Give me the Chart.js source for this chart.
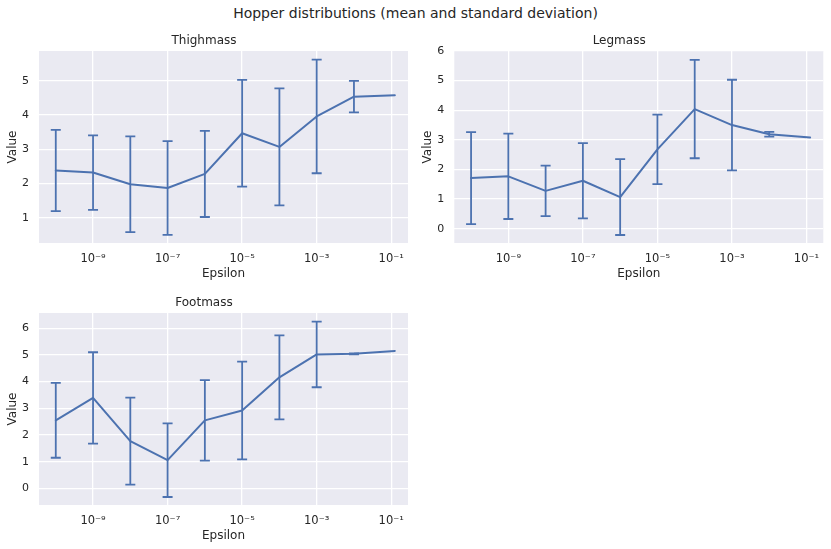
<!DOCTYPE html>
<html><head><meta charset="utf-8">
<script src="https://cdn.jsdelivr.net/npm/chart.js@4.4.0/dist/chart.umd.min.js"></script>
<style>
html,body{margin:0;padding:0;background:#fff;overflow:hidden;width:831px;height:549px;}
#sup{position:absolute;left:0;top:0;width:831px;text-align:center;font-family:"DejaVu Sans";font-size:14px;color:#262626;line-height:26px;}
.c{position:absolute;}
</style></head><body>
<div id="sup">Hopper distributions (mean and standard deviation)</div>
<div class="c" style="left:0;top:30px;width:415px;height:260px"><canvas id="c1"></canvas></div>
<div class="c" style="left:415px;top:30px;width:416px;height:260px"><canvas id="c2"></canvas></div>
<div class="c" style="left:0;top:292px;width:415px;height:260px"><canvas id="c3"></canvas></div>
<script>
const epsilon = [1e-10, 1e-9, 1e-8, 1e-7, 1e-6, 1e-5, 1e-4, 1e-3, 1e-2, 0.125];
const xTickValues = [1e-9, 1e-7, 1e-5, 1e-3, 1e-1];
const xTickLabels = ['10⁻⁹', '10⁻⁷', '10⁻⁵', '10⁻³', '10⁻¹'];

const thighMean = [2.38, 2.32, 1.98, 1.87, 2.28, 3.47, 3.07, 3.96, 4.54, 4.58];
const thighStd  = [1.19, 1.09, 1.40, 1.37, 1.26, 1.56, 1.71, 1.66, 0.46, null];
const legMean   = [1.71, 1.77, 1.28, 1.62, 1.07, 2.68, 4.04, 3.50, 3.19, 3.08];
const legStd    = [1.55, 1.44, 0.85, 1.27, 1.28, 1.17, 1.66, 1.53, 0.08, null];
const footMean  = [2.55, 3.39, 1.77, 1.06, 2.55, 2.92, 4.16, 5.02, 5.04, 5.15];
const footStd   = [1.40, 1.71, 1.63, 1.38, 1.51, 1.83, 1.57, 1.23, 0.02, null];

const thighYTicks = [1, 2, 3, 4, 5];
const legYTicks   = [0, 1, 2, 3, 4, 5, 6];
const footYTicks  = [0, 1, 2, 3, 4, 5, 6];

const TXT = '#262626';
const LINE = '#4C72B0';

const bgPlugin = {
  id: 'bg',
  beforeDraw(chart) {
    const a = chart.chartArea, ctx = chart.ctx;
    ctx.save(); ctx.fillStyle = '#EAEAF2';
    ctx.fillRect(a.left, a.top, a.right - a.left, a.bottom - a.top);
    ctx.restore();
  }
};

const errPlugin = {
  id: 'errbars',
  afterDatasetsDraw(chart) {
    const ctx = chart.ctx, xs = chart.scales.x, ys = chart.scales.y;
    chart.data.datasets.forEach(ds => {
      const std = ds.errStd; if (!std) return;
      ctx.save();
      ctx.strokeStyle = ds.borderColor; ctx.lineWidth = 1.8; ctx.lineCap = 'butt';
      ds.data.forEach((p, i) => {
        const s = std[i]; if (s == null) return;
        const x = xs.getPixelForValue(p.x);
        const y1 = ys.getPixelForValue(p.y - s), y2 = ys.getPixelForValue(p.y + s);
        ctx.beginPath();
        ctx.moveTo(x, y1); ctx.lineTo(x, y2);
        ctx.moveTo(x - 5, y1); ctx.lineTo(x + 5, y1);
        ctx.moveTo(x - 5, y2); ctx.lineTo(x + 5, y2);
        ctx.stroke();
      });
      ctx.restore();
    });
  }
};

function makeChart(id, title, mean, std, yMin, yMax, yTicks, yWidth, rightPad) {
  return new Chart(document.getElementById(id), {
    type: 'line',
    data: { datasets: [{
      data: epsilon.map((e, i) => ({ x: e, y: mean[i] })),
      borderColor: LINE, borderWidth: 2, pointRadius: 0, fill: false, tension: 0,
      borderCapStyle: 'round', borderJoinStyle: 'round',
      errStd: std
    }] },
    options: {
      responsive: true, maintainAspectRatio: false, animation: false,
      layout: { padding: { left: 0, right: rightPad, top: 0, bottom: 0 } },
      plugins: {
        legend: { display: false }, tooltip: { enabled: false },
        title: { display: true, text: title, color: TXT,
          font: { family: 'DejaVu Sans', size: 12, weight: 'normal' },
          padding: { top: 4, bottom: 2.6 } }
      },
      scales: {
        x: {
          type: 'logarithmic',
          min: Math.pow(10, -10.45), max: Math.pow(10, -0.55),
          afterBuildTicks: s => { s.ticks = xTickValues.map(v => ({ value: v })); },
          afterFit: s => { s.height = 47; },
          ticks: { autoSkip: false, maxRotation: 0, minRotation: 0, padding: 9, color: TXT,
            font: { family: 'DejaVu Sans', size: 11.5 },
            callback: (v, i) => xTickLabels[i] },
          grid: { color: '#ffffff', lineWidth: 1.3, drawTicks: false },
          border: { display: false },
          title: { display: true, text: 'Epsilon', color: TXT,
            font: { family: 'DejaVu Sans', size: 12 }, padding: { top: 0, bottom: 8.8 } }
        },
        y: {
          type: 'linear', min: yMin, max: yMax,
          afterBuildTicks: s => { s.ticks = yTicks.map(v => ({ value: v })); },
          afterFit: s => { s.width = yWidth; },
          ticks: { padding: 10, color: TXT, font: { family: 'DejaVu Sans', size: 11 },
            callback: v => String(v) },
          grid: { color: '#ffffff', lineWidth: 1.3, drawTicks: false },
          border: { display: false },
          title: { display: true, text: 'Value', color: TXT,
            font: { family: 'DejaVu Sans', size: 12 }, padding: { top: 6, bottom: 0 } }
        }
      }
    },
    plugins: [bgPlugin, errPlugin]
  });
}

makeChart('c1', 'Thighmass', thighMean, thighStd, 0.26, 5.875, thighYTicks, 39, 7);
makeChart('c2', 'Legmass', legMean, legStd, -0.48, 6.0, legYTicks, 39.3, 7.7);
makeChart('c3', 'Footmass', footMean, footStd, -0.62, 6.57, footYTicks, 39, 7);
</script>
</body></html>
